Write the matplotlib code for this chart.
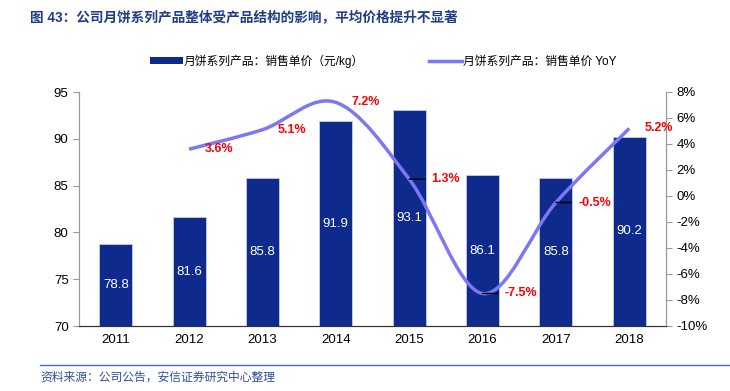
import matplotlib.pyplot as plt
import numpy as np
from matplotlib.path import Path
from matplotlib.patches import PathPatch, Patch
from matplotlib.lines import Line2D

plt.rcParams['font.family'] = ['Liberation Sans', 'Noto Sans CJK SC', 'DejaVu Sans']

years = ['2011', '2012', '2013', '2014', '2015', '2016', '2017', '2018']
price = [78.8, 81.6, 85.8, 91.9, 93.1, 86.1, 85.8, 90.2]
yoy_years = ['2012', '2013', '2014', '2015', '2016', '2017', '2018']
yoy = [3.6, 5.1, 7.2, 1.3, -7.5, -0.5, 5.2]

bar_color = '#0d2a8c'
line_color = '#7b78f5'
# labels pushed out with a short leader line (as in the source chart)
with_leader = [False, False, False, True, True, True, False]

fig = plt.figure(figsize=(7.3, 3.91), dpi=100)
ax = fig.add_axes([79 / 730, 1 - 326 / 391, 587 / 730, 234 / 391])
ax2 = ax.twinx()

x = np.arange(len(years))
ax.bar(x, [p - 70 for p in price], bottom=70, width=0.45, color=bar_color,
       edgecolor='#c9cde0', linewidth=0.6, zorder=2)
for xi, p in zip(x, price):
    ax.text(xi, (70 + p) / 2, f'{p:.1f}', ha='center', va='center', color='white', fontsize=9.5)

ax.set_xlim(-0.5, 7.5)
ax.set_ylim(70, 95)
ax.set_yticks(range(70, 96, 5))
ax.set_xticks(x)
ax.set_xticklabels(years)
ax2.set_ylim(-10, 8)
ax2.set_yticks(range(-10, 9, 2))
ax2.set_yticklabels([f'{v}%' for v in range(-10, 9, 2)])

# smoothed line (Catmull-Rom drawn as Bezier) through the YoY points
xl = np.array([years.index(y) for y in yoy_years], dtype=float)
yl = np.array(yoy, dtype=float)
verts = [(xl[0], yl[0])]
codes = [Path.MOVETO]
n = len(xl)
for i in range(n - 1):
    p0 = np.array([xl[max(i - 1, 0)], yl[max(i - 1, 0)]])
    p1 = np.array([xl[i], yl[i]])
    p2 = np.array([xl[i + 1], yl[i + 1]])
    p3 = np.array([xl[min(i + 2, n - 1)], yl[min(i + 2, n - 1)]])
    c1 = p1 + (p2 - p0) / 6
    c2 = p2 - (p3 - p1) / 6
    verts += [tuple(c1), tuple(c2), tuple(p2)]
    codes += [Path.CURVE4] * 3
ax2.add_patch(PathPatch(Path(verts, codes), facecolor='none', edgecolor=line_color,
                        linewidth=2.5, zorder=3))

for xi, v, lead in zip(xl, yl, with_leader):
    if lead:
        ax2.annotate('', (xi, v), xytext=(11, 0), textcoords='offset points',
                     arrowprops=dict(arrowstyle='-', color='black', lw=1.1,
                                     shrinkA=0, shrinkB=0), zorder=4)
        off = 16
    else:
        off = 11
    ax2.annotate(f'{v:.1f}%', (xi, v), xytext=(off, 0), textcoords='offset points',
                 ha='left', va='center', color='#ff0000', fontsize=9, fontweight='bold')

for a in (ax, ax2):
    a.spines['top'].set_visible(False)
    a.spines['left'].set_color('#999999')
    a.spines['right'].set_color('#999999')
    a.spines['bottom'].set_color('#333333')
    a.tick_params(labelsize=9.5, colors='black')
ax.tick_params(axis='y', color='#999999', length=4)
ax2.tick_params(axis='y', color='#999999', length=4)
ax.tick_params(axis='x', length=0, pad=6)

handles = [Patch(facecolor=bar_color), Line2D([0], [0], color=line_color, linewidth=2.5)]
fig.legend(handles, ['月饼系列产品：销售单价（元/kg）', '月饼系列产品：销售单价 YoY'],
           loc='center', bbox_to_anchor=(0.525, 1 - 61 / 391), ncol=2, frameon=False,
           fontsize=8.5, handlelength=2.8, handleheight=0.6, handletextpad=0.1,
           columnspacing=5.5)

fig.text(30 / 730, 1 - 18 / 391, '图 43：公司月饼系列产品整体受产品结构的影响，平均价格提升不显著',
         color='#1f3c88', fontsize=9.8, fontweight='bold', va='center', ha='left')
fig.add_artist(Line2D([40 / 730, 1], [1 - 365 / 391, 1 - 365 / 391], color='#4a6bb0', linewidth=1))
fig.text(40 / 730, 1 - 378 / 391, '资料来源：公司公告，安信证券研究中心整理', color='#2f4f9f',
         fontsize=8.5, style='italic', va='center', ha='left')

fig.savefig('out.png', dpi=100)
